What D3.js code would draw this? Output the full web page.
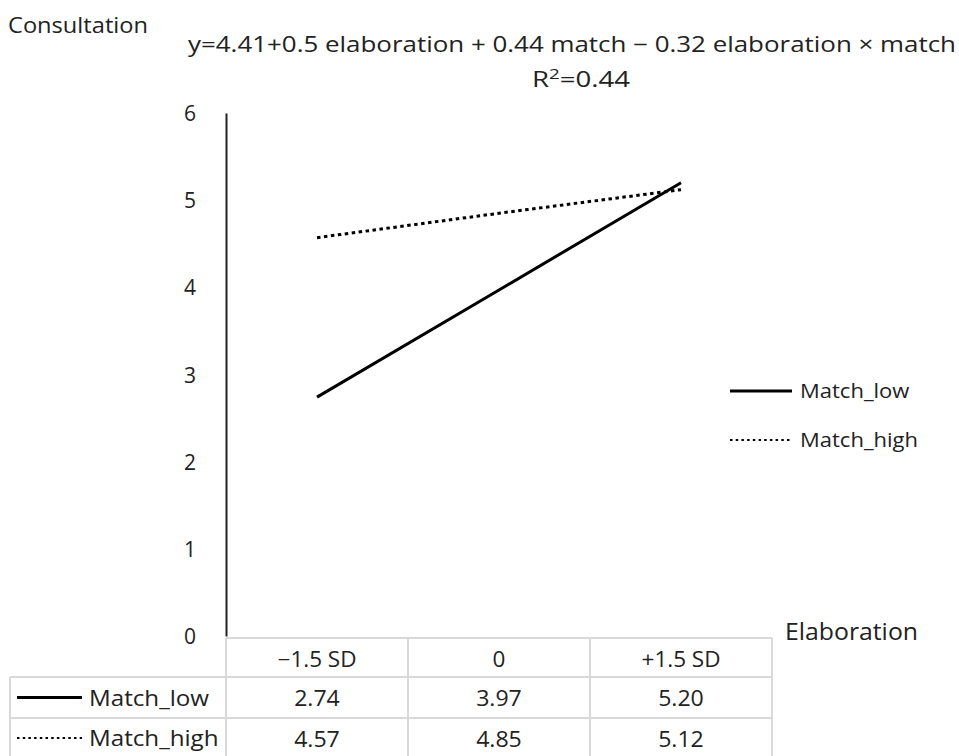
<!DOCTYPE html>
<html><head><meta charset="utf-8">
<script src="https://cdn.jsdelivr.net/npm/d3@7"></script>
<style>body{margin:0;background:#fff}svg{display:block}text{font-family:"Open Sans",sans-serif;fill:#222}</style>
</head><body>
<svg id="c" width="959" height="756"></svg>
<script>
const categories = ["\u22121.5 SD", "0", "+1.5 SD"];
const seriesNames = ["Match_low", "Match_high"];
const matchLow = [2.74, 3.97, 5.20];
const matchHigh = [4.57, 4.85, 5.12];
const yTicks = [0, 1, 2, 3, 4, 5, 6];
const equation = "y=4.41+0.5 elaboration + 0.44 match \u2212 0.32 elaboration \u00d7 match";

const svg = d3.select("#c");
const x = d3.scaleBand().domain(categories).range([226, 772]);
const y = d3.scaleLinear().domain([0, 6]).range([636, 113]);
const series = [
  {name: seriesNames[0], values: matchLow, dash: null},
  {name: seriesNames[1], values: matchHigh, dash: "3.5,3.5"}
];
function stretch(sel, f) {
  sel.each(function () {
    const w = this.getComputedTextLength();
    d3.select(this).attr("textLength", w * f).attr("lengthAdjust", "spacingAndGlyphs");
  });
}

// titles
svg.append("text").attr("x", 8).attr("y", 33).attr("font-size", 22)
  .attr("textLength", 140).attr("lengthAdjust", "spacingAndGlyphs").text("Consultation");
svg.append("text").attr("x", 572).attr("y", 52).attr("text-anchor", "middle").attr("font-size", 21.5)
  .attr("textLength", 768).attr("lengthAdjust", "spacingAndGlyphs").text(equation);
const r = svg.append("text").attr("x", 581).attr("y", 87).attr("text-anchor", "middle").attr("font-size", 22);
r.append("tspan").text("R");
r.append("tspan").attr("font-size", 15).attr("dy", -8).text("2");
r.append("tspan").attr("dy", 8).text("=0.44");
r.attr("textLength", 98).attr("lengthAdjust", "spacingAndGlyphs");

// y axis
const yAxis = d3.axisLeft(y).tickValues(yTicks).tickFormat(d3.format("d")).tickSize(0).tickPadding(29);
const ga = svg.append("g").attr("transform", "translate(226,0)").call(yAxis);
ga.select(".domain").attr("stroke", "#222").attr("stroke-width", 2);
ga.selectAll("text").attr("font-size", 21).attr("font-family", "Open Sans").attr("fill", "#222")
  .attr("text-anchor", "middle").attr("x", -36).attr("dy", "0.36em");

svg.append("text").attr("x", 785).attr("y", 640).attr("font-size", 23)
  .attr("textLength", 133).attr("lengthAdjust", "spacingAndGlyphs").text("Elaboration");

// lines
const line = d3.line().x((d, i) => x(categories[i]) + x.bandwidth() / 2).y(d => y(d));
series.forEach(s => {
  svg.append("path").datum(s.values).attr("d", line).attr("fill", "none")
    .attr("stroke", "#000").attr("stroke-width", 3)
    .attr("stroke-dasharray", s.dash);
});

// legend
series.forEach((s, i) => {
  const ly = 391 + i * 49;
  svg.append("line").attr("x1", 730).attr("x2", 792).attr("y1", ly).attr("y2", ly)
    .attr("stroke", "#000").attr("stroke-width", s.dash ? 2 : 3).attr("stroke-dasharray", s.dash ? "2.5,3.2" : null);
  const t = svg.append("text").attr("x", 800).attr("y", ly + 7).attr("font-size", 20).text(s.name);
  stretch(t, 1.1);
});

// data table
const rowTop = [638, 677, 718, 758];
const grid = "#d9d9d9";
const tg = svg.append("g");
const gl = (x1, x2, y1, y2) => tg.append("line").attr("x1", x1).attr("x2", x2).attr("y1", y1).attr("y2", y2)
  .attr("stroke", grid).attr("stroke-width", 2);
gl(226, 772, rowTop[0], rowTop[0]);
gl(10, 772, rowTop[1], rowTop[1]);
gl(10, 772, rowTop[2], rowTop[2]);
gl(10, 10, rowTop[1], 756);
[226, ...categories.map(c => x(c) + x.bandwidth())].forEach(v => gl(v, v, rowTop[0], 756));
categories.forEach(c => {
  const t = tg.append("text").attr("x", x(c) + x.bandwidth() / 2).attr("y", 667).attr("text-anchor", "middle")
    .attr("font-size", 21).text(c);
  stretch(t, 1.07);
});
series.forEach((s, i) => {
  const cy = (rowTop[i + 1] + rowTop[i + 2]) / 2;
  tg.append("line").attr("x1", 17).attr("x2", 82).attr("y1", cy).attr("y2", cy)
    .attr("stroke", "#000").attr("stroke-width", s.dash ? 2 : 3).attr("stroke-dasharray", s.dash ? "2.5,3.2" : null);
  const t = tg.append("text").attr("x", 89).attr("y", cy + 8).attr("font-size", 21).text(s.name);
  stretch(t, 1.15);
  s.values.forEach((v, j) => {
    const tv = tg.append("text").attr("x", x(categories[j]) + x.bandwidth() / 2).attr("y", cy + 8.5)
      .attr("text-anchor", "middle").attr("font-size", 21).text(v.toFixed(2));
    stretch(tv, 1.1);
  });
});
</script>
</body></html>
